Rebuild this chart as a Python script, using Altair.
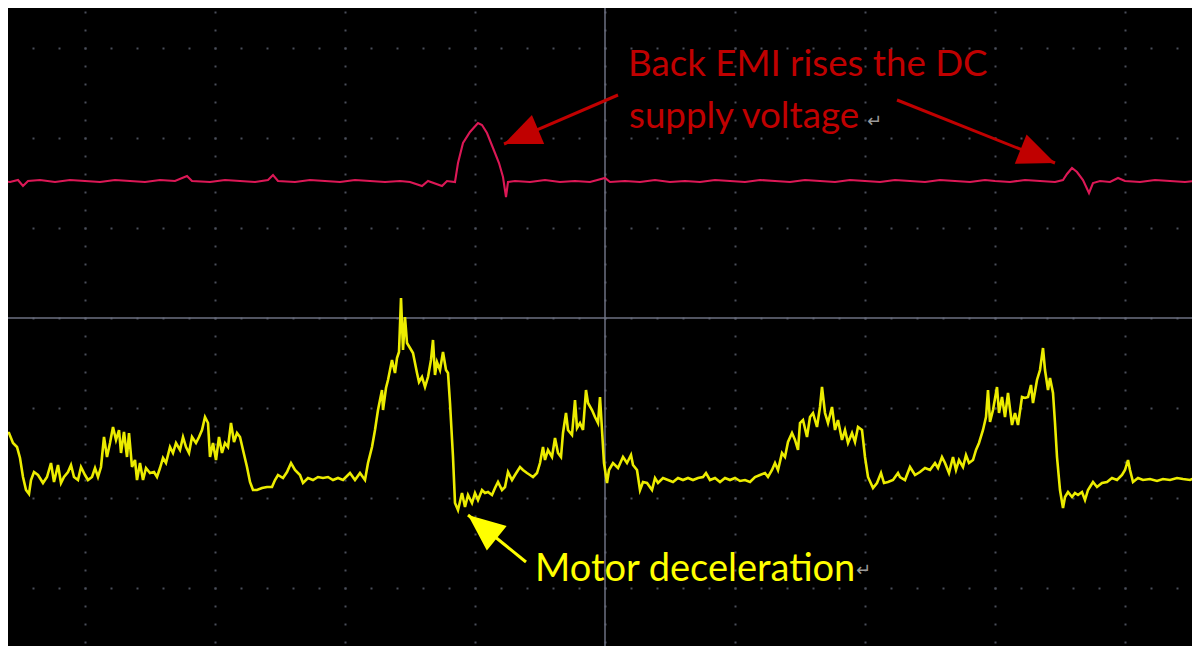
import altair as alt
import pandas as pd

# ---- Yellow trace (motor current): sample index and level in screen counts (+ = up, 0 = centre line)
yellow_t = [0, 2, 5, 6, 9, 13, 17, 20, 23, 26, 29, 31, 34, 38, 43, 47, 51, 54, 58, 61, 64, 68, 71, 74, 78, 81, 85, 88, 92, 95, 98,
            101, 104, 107, 110, 113, 116, 119, 121, 124, 127, 129, 132, 135, 137, 140, 143, 146, 150, 154, 157, 160, 163, 166, 170,
            173, 176, 180, 183, 186, 189, 192, 196, 199, 202, 205, 208, 210, 213, 216, 219, 222, 225, 228, 231, 234, 237, 240, 243,
            247, 250, 253, 257, 262, 267, 272, 275, 278, 283, 287, 291, 295, 300, 303, 308, 313, 318, 323, 328, 333, 338, 343, 350,
            355, 360, 365, 368, 372, 375, 378, 382, 383, 386, 388, 392, 395, 397, 399, 401, 403, 405, 407, 410, 413, 417, 419, 422,
            425, 428, 431, 433, 435, 437, 440, 443, 446, 448, 450, 453, 455, 458, 462, 465, 468, 472, 475, 478, 482, 485, 488, 492,
            495, 498, 502, 505, 508, 512, 515, 520, 523, 527, 530, 533, 537, 540, 543, 545, 548, 552, 555, 558, 561, 563, 566, 568,
            572, 575, 577, 580, 583, 586, 588, 592, 595, 598, 600, 602, 604, 607, 609, 613, 618, 623, 627, 631, 633, 637, 640, 643,
            647, 652, 655, 658, 663, 668, 673, 678, 683, 688, 693, 698, 703, 706, 710, 715, 720, 725, 730, 735, 740, 745, 750, 755,
            760, 765, 768, 772, 775, 778, 782, 785, 788, 792, 795, 798, 800, 803, 807, 810, 813, 817, 820, 822, 825, 828, 832, 835,
            838, 842, 845, 848, 852, 855, 858, 862, 865, 868, 873, 877, 881, 884, 888, 893, 898, 900, 905, 910, 915, 920, 925, 930,
            935, 938, 942, 945, 949, 953, 956, 959, 963, 966, 969, 973, 976, 979, 983, 986, 988, 990, 993, 997, 999, 1002, 1005,
            1008, 1012, 1015, 1018, 1022, 1025, 1028, 1031, 1033, 1037, 1040, 1043, 1045, 1048, 1050, 1053, 1055, 1057, 1060, 1063,
            1065, 1068, 1072, 1075, 1078, 1082, 1085, 1088, 1093, 1097, 1102, 1107, 1112, 1117, 1122, 1125, 1128, 1130, 1133, 1138,
            1143, 1150, 1157, 1163, 1170, 1177, 1183, 1190, 1195]
yellow_v = [-85, -112, -90, -115, -115, -125, -129, -140, -159, -172, -176, -162, -154, -157, -165, -159, -145, -164, -147, -165,
            -159, -154, -147, -159, -162, -149, -157, -162, -159, -150, -159, -149, -119, -139, -125, -109, -122, -112, -135, -114,
            -139, -115, -149, -142, -162, -145, -162, -150, -155, -154, -159, -150, -140, -145, -129, -135, -125, -132, -119, -129,
            -135, -119, -125, -119, -112, -99, -105, -139, -125, -142, -119, -135, -125, -129, -105, -124, -115, -119, -132, -149,
            -164, -172, -172, -170, -169, -169, -162, -157, -160, -154, -145, -152, -157, -165, -160, -162, -159, -160, -159, -162,
            -160, -162, -155, -162, -155, -162, -145, -129, -112, -92, -72, -92, -70, -62, -42, -55, -40, -34, 20, -32, 1, -25, -30,
            -35, -55, -64, -59, -69, -59, -42, -22, -57, -44, -52, -34, -52, -55, -85, -139, -185, -192, -175, -189, -177, -185,
            -175, -182, -172, -175, -174, -177, -170, -164, -172, -169, -154, -162, -157, -149, -152, -155, -157, -159, -155, -145,
            -129, -142, -132, -139, -120, -135, -139, -115, -95, -112, -117, -82, -110, -105, -112, -72, -85, -92, -99, -105, -79,
            -112, -145, -165, -152, -145, -150, -139, -145, -137, -147, -152, -172, -164, -165, -172, -160, -165, -160, -162, -164,
            -160, -162, -160, -162, -160, -159, -155, -162, -160, -164, -160, -162, -160, -163, -162, -164, -159, -157, -155, -159,
            -152, -145, -152, -135, -139, -124, -115, -122, -132, -105, -102, -119, -99, -95, -109, -89, -69, -95, -105, -89, -112,
            -102, -122, -112, -125, -115, -124, -109, -112, -139, -159, -170, -165, -155, -165, -164, -162, -155, -159, -162, -149,
            -157, -154, -150, -152, -145, -150, -139, -145, -155, -139, -152, -142, -149, -137, -145, -142, -132, -125, -112, -99,
            -72, -104, -92, -69, -95, -79, -99, -75, -107, -95, -107, -79, -80, -79, -67, -85, -62, -52, -30, -52, -72, -60, -75,
            -105, -139, -172, -190, -179, -174, -179, -175, -177, -174, -182, -172, -164, -169, -165, -164, -160, -162, -157, -152,
            -142, -152, -164, -160, -162, -161, -163, -161, -162, -160, -161, -162, -160]

# ---- Red trace (DC supply voltage)
red_t = [0, 10, 18, 23, 28, 40, 55, 70, 85, 100, 115, 130, 145, 160, 175, 187, 192, 210, 225, 240, 255, 268, 273, 278, 295,
         310, 325, 340, 355, 370, 385, 400, 410, 422, 428, 442, 447, 455, 458, 463, 470, 478, 482, 487, 493, 499, 503, 506,
         508, 515, 530, 545, 560, 575, 590, 605, 610, 625, 640, 655, 670, 685, 700, 715, 730, 745, 760, 775, 790, 805, 820,
         835, 850, 865, 880, 895, 910, 925, 940, 955, 970, 985, 995, 1010, 1025, 1040, 1055, 1063, 1067, 1072, 1077, 1083,
         1089, 1093, 1100, 1110, 1118, 1125, 1140, 1155, 1170, 1185, 1195]
red_v = [137, 136, 138, 132, 137, 138, 136, 138, 137, 136, 138, 137, 136, 138, 137, 142, 137, 136, 138, 137, 136, 138, 143,
         137, 136, 138, 137, 136, 138, 137, 136, 137, 136, 132, 137, 132, 137, 136, 155, 175, 186, 195, 193, 185, 170, 155,
         141, 121, 136, 137, 136, 138, 136, 137, 136, 140, 136, 137, 136, 138, 136, 137, 136, 138, 137, 136, 138, 137, 136,
         138, 137, 136, 138, 137, 136, 138, 137, 136, 138, 137, 136, 138, 137, 136, 138, 137, 136, 138, 144, 150, 146, 138,
         125, 135, 137, 136, 140, 137, 136, 138, 137, 136, 137]

# ---- Graticule
x_major = [85, 215, 345, 475, 605, 735, 865, 995, 1125]
y_major = [-270, -180, -90, 0, 90, 180, 270]
center_t = [605]
center_v = [0]
X_DOMAIN = [8, 1192]
Y_DOMAIN = [-328, 310]

# ---- Annotations
red_labels = ["Back EMI rises the DC", "supply voltage"]
red_label_t = [628, 629]
red_label_v = [242, 190]
yellow_labels = ["Motor deceleration"]
yellow_label_t = [535]
yellow_label_v = [-263]
mark_labels = ["↵", "↵"]
mark_label_t = [867, 856]
mark_label_v = [191, -258]

arrow_t = [618, 897, 526]
arrow_v = [223, 218, -244]
arrow_t2 = [504, 1055, 468]
arrow_v2 = [174, 155, -197]
arrow_angle = [247, 112, 309]
arrow_color = ["#c00000", "#c00000", "#ffff00"]

xs = alt.Scale(domain=X_DOMAIN, nice=False, zero=False)
ys = alt.Scale(domain=Y_DOMAIN, nice=False, zero=False)
GRID = "#4a4e5a"
CENTER = "#6c7082"

x_axis = alt.Axis(values=x_major, grid=True, gridDash=[2, 16], gridDashOffset=15, gridColor=GRID,
                  gridWidth=2, labels=False, ticks=False, domain=False, orient="top", title="")
y_axis = alt.Axis(values=y_major, grid=True, gridDash=[2, 24], gridDashOffset=2, gridColor=GRID,
                  gridWidth=2, labels=False, ticks=False, domain=False, orient="left", title="")


def X(field):
    return alt.X(field, scale=xs, axis=x_axis)


def Y(field):
    return alt.Y(field, scale=ys, axis=y_axis)


center_df = pd.DataFrame({"t": center_t, "v": center_v})
vline = alt.Chart(center_df).mark_rule(color=CENTER, strokeWidth=1.5).encode(x=X("t:Q"))
hline = alt.Chart(center_df).mark_rule(color=CENTER, strokeWidth=1.5).encode(y=Y("v:Q"))

red_df = pd.DataFrame({"t": red_t, "v": red_v})
yellow_df = pd.DataFrame({"t": yellow_t, "v": yellow_v})

red_line = alt.Chart(red_df).mark_line(color="#dc1856", strokeWidth=2.1, clip=True).encode(
    x=X("t:Q"), y=Y("v:Q"))
yellow_line = alt.Chart(yellow_df).mark_line(color="#ecec00", strokeWidth=2.6, clip=True).encode(
    x=X("t:Q"), y=Y("v:Q"))

arrows_df = pd.DataFrame({"t": arrow_t, "v": arrow_v, "t2": arrow_t2, "v2": arrow_v2,
                          "angle": arrow_angle, "color": arrow_color})
shafts = alt.Chart(arrows_df).mark_rule(strokeWidth=3).encode(
    x=X("t:Q"), y=Y("v:Q"), x2="t2:Q", y2="v2:Q", color=alt.Color("color:N", scale=None))
heads = alt.Chart(arrows_df).mark_point(shape="M0,0 L0.85,2 L-0.85,2 Z", filled=True, opacity=1,
                                        size=1369, strokeWidth=0).encode(
    x=X("t2:Q"), y=Y("v2:Q"),
    angle=alt.Angle("angle:Q", scale=None), color=alt.Color("color:N", scale=None))

red_txt = alt.Chart(pd.DataFrame({"t": red_label_t, "v": red_label_v, "label": red_labels})).mark_text(
    align="left", baseline="alphabetic", font="Lato", fontSize=36.7, color="#c00000").encode(
    x=X("t:Q"), y=Y("v:Q"), text="label:N")
yellow_txt = alt.Chart(pd.DataFrame({"t": yellow_label_t, "v": yellow_label_v, "label": yellow_labels})).mark_text(
    align="left", baseline="alphabetic", font="Lato", fontSize=38, color="#ffff00").encode(
    x=X("t:Q"), y=Y("v:Q"), text="label:N")
mark_txt = alt.Chart(pd.DataFrame({"t": mark_label_t, "v": mark_label_v, "label": mark_labels})).mark_text(
    align="left", baseline="alphabetic", font="DejaVu Sans", fontSize=18, color="#9a9a9a").encode(
    x=X("t:Q"), y=Y("v:Q"), text="label:N")

chart = alt.layer(vline, hline, red_line, yellow_line, shafts, heads, red_txt, yellow_txt, mark_txt).properties(
    width=1184, height=638, padding=0, autosize="none", background="#000000"
).configure_view(stroke=None, fill="#000000")

chart.save("out.html", embed_options={"renderer": "svg", "actions": False})
